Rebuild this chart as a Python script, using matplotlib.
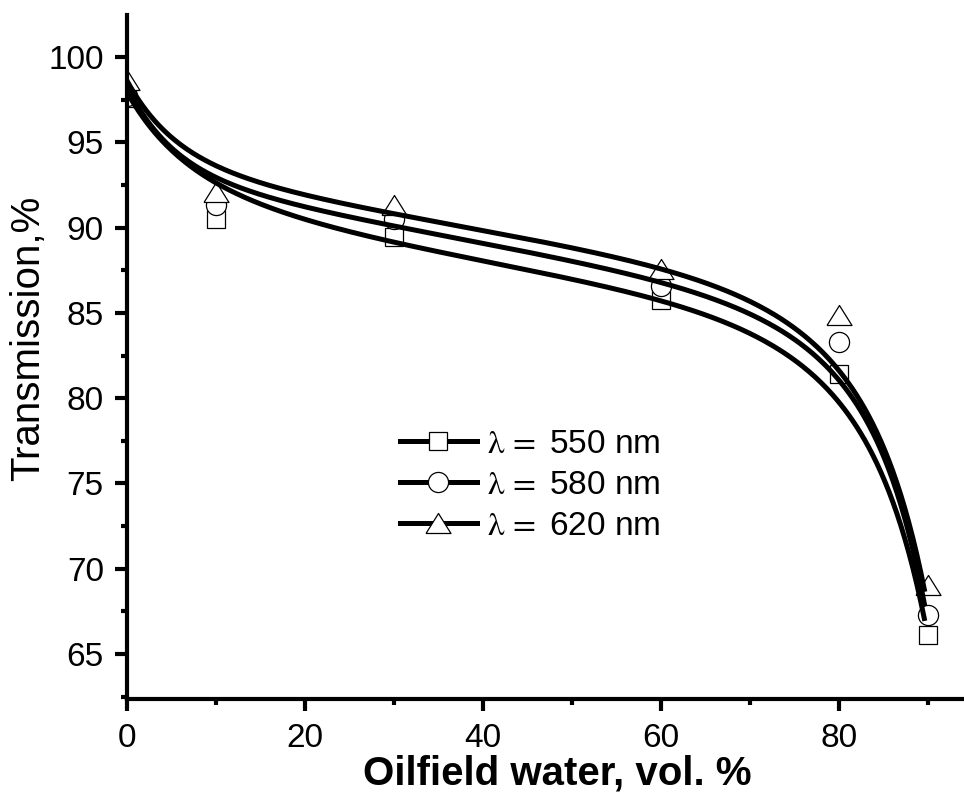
import numpy as np
import matplotlib
matplotlib.use("Agg")
import matplotlib.pyplot as plt
from matplotlib.ticker import MultipleLocator

plt.rcParams['font.family'] = ['Liberation Sans', 'DejaVu Sans']
plt.rcParams['mathtext.fontset'] = 'stix'

# Oilfield water content, vol. %
water = [0, 10, 30, 60, 80, 90]

# Measured transmission (%) at three wavelengths
t_550 = [97.6, 90.5, 89.45, 85.75, 81.4, 66.1]
t_580 = [97.7, 91.3, 90.5, 86.6, 83.3, 67.3]
t_620 = [98.65, 92.1, 91.3, 87.6, 84.9, 69.05]

# Trend curves for each wavelength
curve_x = [0, 2.5, 5, 7.5, 10, 15, 20, 25, 30, 35, 40, 45, 50, 55, 60,
           65, 70, 75, 77.5, 80, 82.5, 85, 87.5, 89.6]
curve_550 = [97.6, 96.4, 95.1, 93.5, 92.1, 91.0, 90.25, 89.75, 89.3, 88.8,
             88.25, 87.7, 87.2, 86.45, 85.45, 84.7, 83.6, 82.2, 81.15, 79.9,
             77.7, 75.2, 71.8, 66.8]
curve_580 = [97.9, 96.6, 95.2, 93.7, 92.4, 91.6, 91.0, 90.6, 90.25, 89.75,
             89.25, 88.75, 88.3, 87.5, 86.6, 85.75, 84.8, 83.4, 82.4, 81.1,
             79.0, 76.5, 73.1, 67.6]
curve_620 = [98.3, 97.1, 95.7, 94.35, 93.2, 92.3, 91.8, 91.3, 90.9, 90.45,
             89.95, 89.55, 89.05, 88.3, 87.4, 86.6, 85.55, 84.1, 83.0, 81.6,
             79.5, 77.0, 73.8, 68.4]

labels = [r'$\mathrm{\lambda\,=}$ 550 nm',
          r'$\mathrm{\lambda\,=}$ 580 nm',
          r'$\mathrm{\lambda\,=}$ 620 nm']


def smooth_trend(xs, ys, n=400):
    """Least-squares trend: linear part plus decaying terms at both ends."""
    xs = np.asarray(xs, float)
    ys = np.asarray(ys, float)
    end = xs[-1]

    def basis(x):
        return np.column_stack([
            np.ones_like(x), x,
            np.exp(-x / 5.0), np.exp(-x / 12.0),
            np.exp((x - end) / 4.0), np.exp((x - end) / 10.0),
        ])

    coef, *_ = np.linalg.lstsq(basis(xs), ys, rcond=None)
    xf = np.linspace(xs[0], end, n)
    return xf, basis(xf) @ coef


tri = [(-1.0, -0.8), (1.0, -0.8), (0.0, 0.8), (-1.0, -0.8)]
markers = ['s', 'o', tri]
msizes = [13, 14.5, 18]

fig = plt.figure(figsize=(9.64, 7.94), dpi=100)
ax = fig.add_axes([0.1315, 0.1196, 0.8685, 0.8614])

handles = []
series = [(t_550, curve_550), (t_580, curve_580), (t_620, curve_620)]
for i, ((pts, crv), m, ms, lab) in enumerate(zip(series, markers, msizes, labels)):
    sx, sy = smooth_trend(curve_x, crv)
    ax.plot(sx, sy, color='black', lw=3.6, zorder=5, solid_capstyle='butt')
    ax.plot(water, pts, linestyle='none', marker=m, ms=ms, mfc='white',
            mec='black', mew=0.9, zorder=2 + i * 0.1)
    h, = ax.plot([], [], color='black', lw=3.6, marker=m, ms=ms, mfc='white',
                 mec='black', mew=0.9, label=lab)
    handles.append(h)

ax.set_xlim(0, 94)
ax.set_ylim(62.36, 102.46)

ax.xaxis.set_major_locator(MultipleLocator(20))
ax.xaxis.set_minor_locator(MultipleLocator(10))
ax.yaxis.set_major_locator(MultipleLocator(5))
ax.yaxis.set_minor_locator(MultipleLocator(2.5))

for s in ['top', 'right']:
    ax.spines[s].set_visible(False)
for s in ['left', 'bottom']:
    ax.spines[s].set_linewidth(3.0)

ax.tick_params(which='major', direction='out', length=8.5, width=3.0,
               labelsize=24, pad=6)
ax.tick_params(which='minor', direction='out', length=4.0, width=3.0)
ax.tick_params(axis='x', which='major', pad=9)
ax.tick_params(axis='y', which='major', pad=8)

ax.set_xlabel('Oilfield water, vol. %', fontsize=29, fontweight='bold',
              labelpad=0, x=0.514)
ax.set_ylabel('Transmission,%', fontsize=29, labelpad=1, y=0.528)

leg = ax.legend(handles=handles, loc='upper left',
                bbox_to_anchor=(0.3264, 0.395), frameon=False, fontsize=24,
                handlelength=2.3, handletextpad=0.3, labelspacing=0.3,
                borderaxespad=0, borderpad=0)

fig.savefig('out.png', dpi=100)
